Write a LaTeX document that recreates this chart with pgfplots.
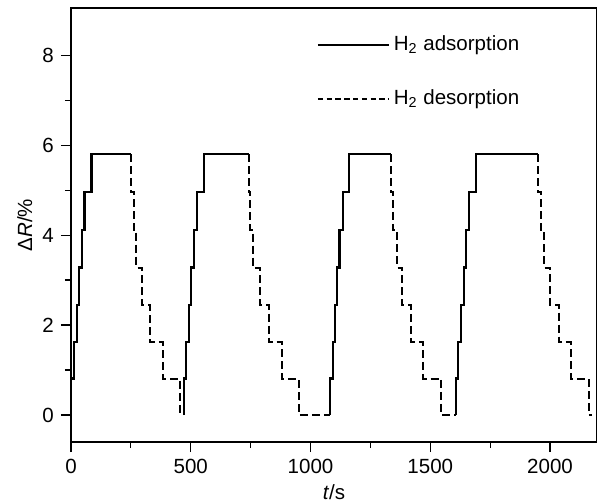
\documentclass[border=0pt]{standalone}
\usepackage{fontspec}
\setmainfont{Liberation Sans}
\usepackage{pgfplots}
\pgfplotsset{compat=1.18}
\begin{document}
\fontsize{10.3}{12}\selectfont
\begin{tikzpicture}
\begin{axis}[
  at={(0,0)}, anchor=south west,
  scale only axis, width=263bp, height=217bp,
  xmin=0, xmax=2196, ymin=-0.6, ymax=9.05,
  xtick={0,500,1000,1500,2000}, ytick={0,2,4,6,8},
  minor x tick num=1, minor y tick num=1,
  xtick pos=bottom, ytick pos=left,
  tick align=outside,
  major tick length=5bp, minor tick length=3bp,
  tick style={black, line width=0.6bp},
  axis line style={line width=0.8bp},
  /pgf/number format/assume math mode=true,
  /pgf/number format/1000 sep={},
  ticklabel style={font=\fontsize{10.3}{12}\selectfont},
  label style={font=\fontsize{10.3}{12}\selectfont},
  xlabel={\textit{t}/s},
  ylabel={Δ\textit{R}/\%},
  xlabel style={yshift=1.5bp},
  ylabel style={yshift=-2bp},
  const plot mark left,
  legend style={draw=none, fill=none, at={(0.455,0.955)}, anchor=north west,
    row sep=14bp, font=\fontsize{10.3}{12}\selectfont},
  legend cell align=left,
  legend image code/.code={\draw[#1] (0bp,0bp) -- (35.5bp,0bp);},
]
% cycle 1
\addplot[black, line width=1.1bp] coordinates {(0,0) (0,0.81) (12,1.62) (24,2.45) (33,3.28) (45,4.12) (56,4.96) (86,5.8) (250,5.8)};
\addlegendentry{H\textsubscript{2} adsorption}
\addplot[black, line width=1bp, dash pattern=on 4bp off 2bp,
  legend image code/.code={\draw[black, line width=0.9bp, dash pattern=on 2.7bp off 1.7bp] (0bp,0bp) -- (35.5bp,0bp);}]
  coordinates {(250,5.8) (250,4.96) (262,4.12) (273,3.28) (296,2.45) (330,1.62) (383,0.81) (456,0.02)};
\addlegendentry{H\textsubscript{2} desorption}
% cycle 2
\addplot[black, line width=1.1bp, forget plot] coordinates {(471,0) (471,0.81) (481,1.62) (494,2.45) (500,3.28) (512,4.12) (526,4.96) (554,5.8) (742,5.8)};
\addplot[black, line width=1bp, dash pattern=on 4bp off 2bp, forget plot] coordinates {(742,5.8) (742,4.96) (749,4.12) (761,3.28) (788,2.45) (828,1.62) (880,0.81) (951,0) (1081,0)};
% cycle 3
\addplot[black, line width=1.1bp, forget plot] coordinates {(1081,0) (1081,0.81) (1093,1.62) (1102,2.45) (1111,3.28) (1121,4.12) (1134,4.96) (1160,5.8) (1336,5.8)};
\addplot[black, line width=1bp, dash pattern=on 4bp off 2bp, forget plot] coordinates {(1336,5.8) (1336,4.96) (1346,4.12) (1360,3.28) (1381,2.45) (1420,1.62) (1471,0.81) (1546,0) (1606,0)};
% cycle 4
\addplot[black, line width=1.1bp, forget plot] coordinates {(1606,0) (1606,0.81) (1617,1.62) (1627,2.45) (1641,3.28) (1649,4.12) (1662,4.96) (1690,5.8) (1949,5.8)};
\addplot[black, line width=1bp, dash pattern=on 4bp off 2bp, forget plot] coordinates {(1949,5.8) (1949,4.96) (1961,4.12) (1974,3.28) (1999,2.45) (2039,1.62) (2086,0.81) (2162,0) (2174,0)};
\end{axis}
\pgfresetboundingbox
\path (-35.5bp,-30.5bp) rectangle (263bp,221bp);
\end{tikzpicture}
\end{document}
